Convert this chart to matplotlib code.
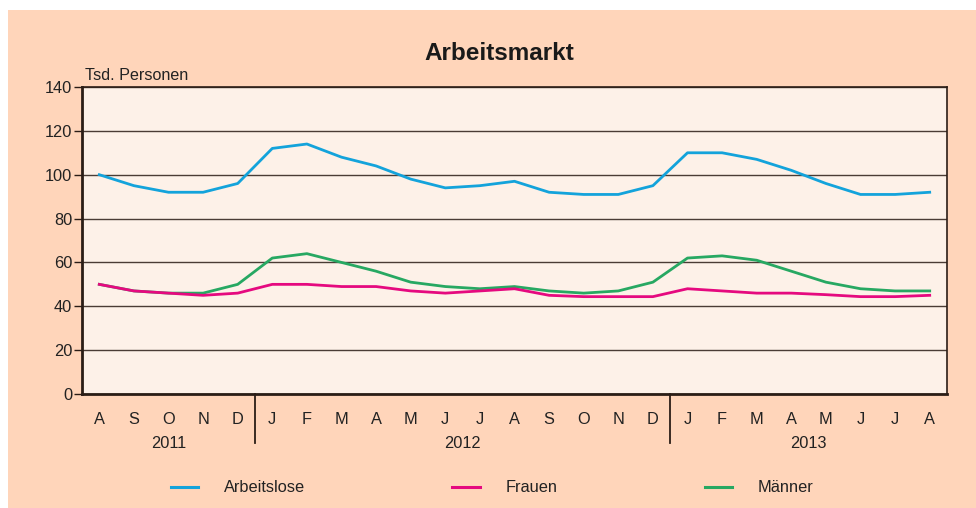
import matplotlib
matplotlib.use("Agg")
import matplotlib.pyplot as plt
from matplotlib.patches import Rectangle
from matplotlib.lines import Line2D
import matplotlib.transforms as mtransforms

months = ["A", "S", "O", "N", "D", "J", "F", "M", "A", "M", "J", "J", "A",
          "S", "O", "N", "D", "J", "F", "M", "A", "M", "J", "J", "A"]
years = ["2011", "2012", "2013"]
year_spans = [(0, 4), (5, 16), (17, 24)]

arbeitslose = [100, 95, 92, 92, 96, 112, 114, 108, 104, 98, 94, 95, 97,
               92, 91, 91, 95, 110, 110, 107, 102, 96, 91, 91, 92]
frauen = [50, 47, 46, 45, 46, 50, 50, 49, 49, 47, 46, 47, 48,
          45, 44.4, 44.4, 44.4, 48, 47, 46, 46, 45.3, 44.4, 44.4, 45]
maenner = [50, 47, 46, 46, 50, 62, 64, 60, 56, 51, 49, 48, 49,
           47, 46, 47, 51, 62, 63, 61, 56, 51, 48, 47, 47]

plt.rcParams['font.family'] = ['Liberation Sans', 'DejaVu Sans']

peach = "#FFD5BA"
plotbg = "#FDF1E8"
dark = "#2b1d16"

fig = plt.figure(figsize=(9.76, 5.08), dpi=100, facecolor="white")
fig.patches.append(Rectangle((8/976, 0), 1 - 8/976, 1 - 10/508,
                             transform=fig.transFigure, facecolor=peach,
                             edgecolor="none", zorder=-10))

ax = fig.add_axes([82/976, 1 - 394/508, (947 - 82)/976, (394 - 87)/508])
ax.set_facecolor(plotbg)

x = list(range(len(months)))
ax.plot(x, arbeitslose, color="#13A3DB", lw=2.0, zorder=3)
ax.plot(x, maenner, color="#27A862", lw=2.0, zorder=3)
ax.plot(x, frauen, color="#E5097F", lw=2.0, zorder=3)

ax.set_xlim(-0.5, len(months) - 0.5)
ax.set_ylim(0, 140)
ax.set_yticks(range(0, 141, 20))
ax.yaxis.grid(True, color="#4a3c35", lw=1.0)
ax.set_axisbelow(True)
ax.tick_params(axis="y", length=6, width=1, color=dark, labelsize=11.8,
               labelcolor="#222222", pad=1)
ax.set_xticks(x)
ax.set_xticklabels(months)
ax.tick_params(axis="x", length=0, labelsize=11.8, labelcolor="#222222", pad=13)

for s in ["left", "bottom"]:
    ax.spines[s].set_color(dark)
    ax.spines[s].set_linewidth(2.0)
for s in ["top", "right"]:
    ax.spines[s].set_color(dark)
    ax.spines[s].set_linewidth(1.2)

trans = mtransforms.blended_transform_factory(ax.transData, ax.transAxes)
for (a, b), yr in zip(year_spans, years):
    ax.text((a + b) / 2, -0.16, yr, transform=trans, ha="center", va="center",
            fontsize=11.8, color="#222222")
for (a, b) in year_spans[:-1]:
    ax.add_line(Line2D([b + 0.5, b + 0.5], [0, -0.16], transform=trans,
                       color=dark, lw=1.3, clip_on=False))

fig.text(85/976, 1 - 75.5/508, "Tsd. Personen",
         ha="left", va="center", fontsize=11.6, color="#222222")
fig.text(499/976, 1 - 53/508, "Arbeitsmarkt", ha="center", va="center",
         fontsize=17.5, fontweight="bold", color="#1a1a1a")

handles = [Line2D([], [], color="#13A3DB", lw=2.2),
           Line2D([], [], color="#E5097F", lw=2.2),
           Line2D([], [], color="#27A862", lw=2.2)]
leg = fig.legend(handles, ["Arbeitslose", "Frauen", "Männer"], ncol=3,
                 loc="center left", bbox_to_anchor=(156/976, 1 - 488/508),
                 frameon=False, fontsize=11.8, handlelength=1.68,
                 handletextpad=1.55, columnspacing=9.0)
for t in leg.get_texts():
    t.set_color("#222222")

fig.savefig("out.png", dpi=100, facecolor="white")
